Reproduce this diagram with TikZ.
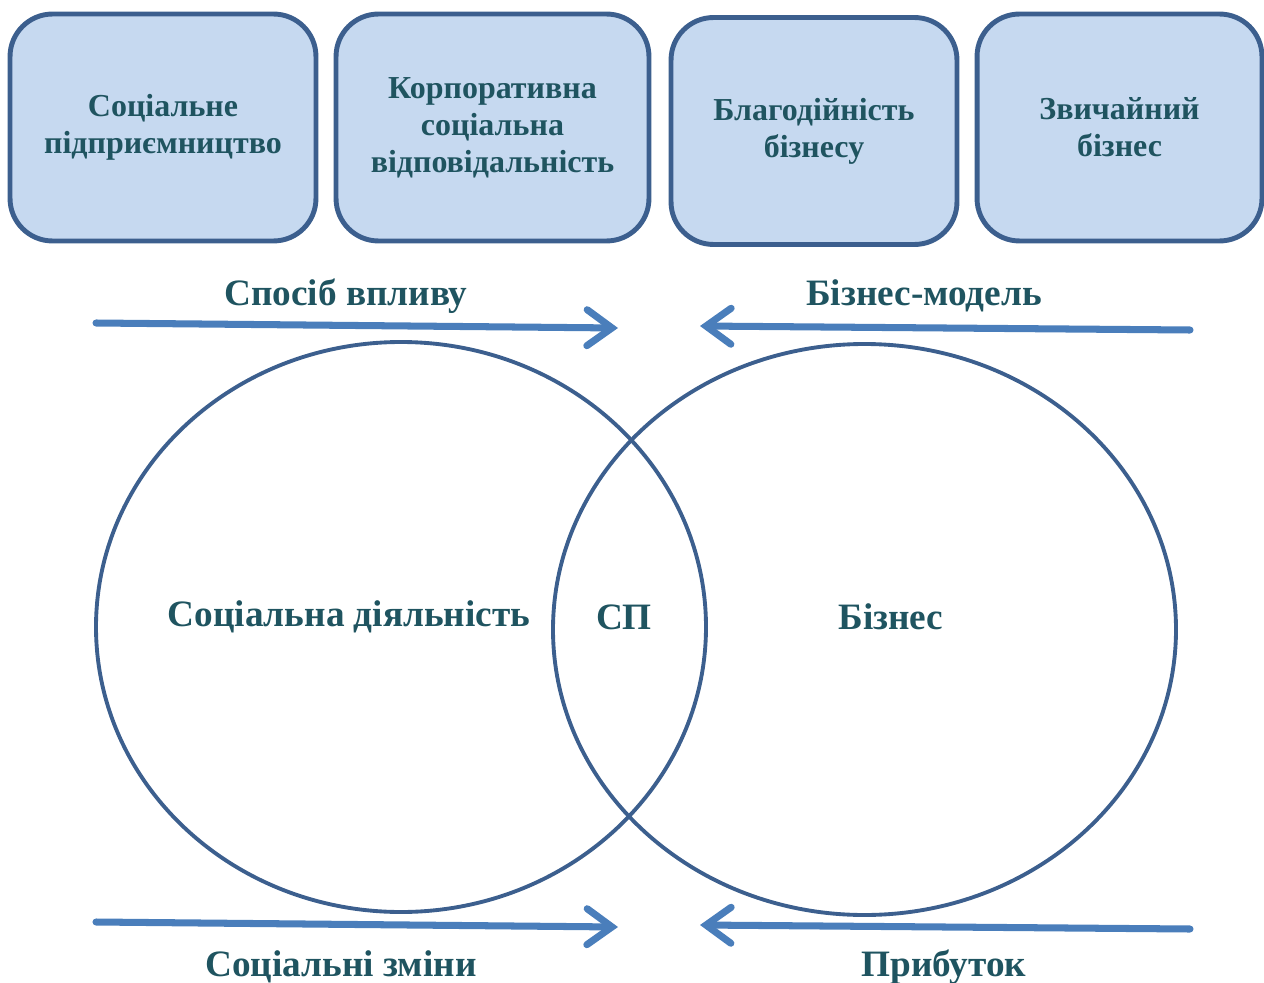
\documentclass[tikz,border=0pt]{standalone}
\usepackage{fontspec}
\setmainfont{Liberation Serif}
\usetikzlibrary{arrows.meta}
\definecolor{boxfill}{RGB}{198,217,240}
\definecolor{boxline}{RGB}{60,95,142}
\definecolor{txt}{RGB}{31,84,96}
\definecolor{arrowblue}{RGB}{74,126,187}
\tikzset{
  kind/.style={draw=boxline, fill=boxfill, line width=2.8pt, rounded corners=0.85cm,
    minimum height=4.54cm, align=center, text=txt, font=\fontsize{18.2}{21}\selectfont\bfseries},
  field/.style={draw=boxline, line width=2.2pt},
  flow/.style={draw=arrowblue, line width=4pt, line cap=round,
    -{Straight Barb[length=0.5cm, width=0.72cm, line cap=round, line width=4pt]}},
  lbl/.style={text=txt, font=\fontsize{21.2}{24}\selectfont\bfseries}
}
\begin{document}
\begin{tikzpicture}[x=0.02cm,y=-0.02cm]
\useasboundingbox (0,0) rectangle (1264,983);

% types of activity
\node[kind, minimum width=6.12cm] (se) at (163,127.5) {Соціальне\\підприємництво};
\node[kind, minimum width=6.26cm] (csr) at (492.5,127.5) {Корпоративна\\соціальна\\відповідальність};
\node[kind, minimum width=5.72cm] (char) at (814,131) {Благодійність\\бізнесу};
\node[kind, minimum width=5.7cm] (biz) at (1119.5,127.5) {Звичайний\\бізнес};

% two fields
\draw[field] (401,627) ellipse [x radius=305, y radius=285];
\draw[field] (864.5,629.5) ellipse [x radius=311.5, y radius=285.5];
\node[lbl] (social) at (349,617) {Соціальна діяльність};
\node[lbl] (sp) at (624,617) {СП};
\node[lbl] (business) at (891,617) {Бізнес};

% flows
\coordinate (tl) at (96,323);
\coordinate (tlm) at (618,328);
\coordinate (tr) at (1190,330);
\coordinate (trm) at (700,326);
\coordinate (bl) at (96,922);
\coordinate (blm) at (618,927);
\coordinate (br) at (1190,929);
\coordinate (brm) at (700,925);
\draw[flow] (tl) -- (tlm);
\draw[flow] (tr) -- (trm);
\draw[flow] (bl) -- (blm);
\draw[flow] (br) -- (brm);

\node[lbl] (way) at (346,296) {Спосіб впливу};
\node[lbl] (model) at (924,296) {Бізнес-модель};
\node[lbl] (change) at (341,967) {Соціальні зміни};
\node[lbl] (profit) at (944,967) {Прибуток};
\end{tikzpicture}
\end{document}
